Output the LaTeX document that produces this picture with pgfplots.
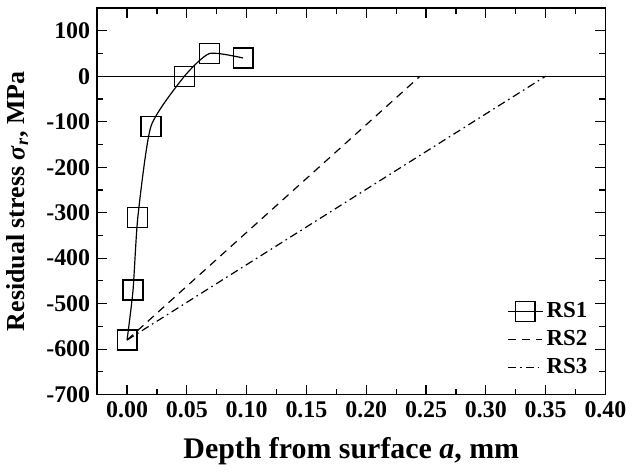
\documentclass[border=0pt]{standalone}
\usepackage{pgfplots}
\pgfplotsset{compat=1.18}
\usepackage{fontspec}
\setmainfont{Liberation Serif}
\begin{document}
\begin{tikzpicture}
\begin{axis}[
    scale only axis,
    width=255pt, height=194pt,
    xmin=-0.025, xmax=0.40,
    ymin=-700, ymax=150,
    xtick={0,0.05,...,0.40},
    ytick={-700,-600,...,100},
    minor x tick num=1,
    minor y tick num=1,
    tick align=inside,
    major tick length=5pt,
    minor tick length=3pt,
    axis line style={line width=0.8pt},
    every tick/.style={black, line width=0.6pt},
    /pgf/number format/assume math mode=true,
    xticklabel style={/pgf/number format/fixed, /pgf/number format/fixed zerofill, /pgf/number format/precision=2},
    tick label style={font=\bfseries\fontsize{12}{13}\selectfont},
    yticklabel style={/pgf/number format/fixed, /pgf/number format/1000 sep={}},
    xlabel={\bfseries\fontsize{15}{16}\selectfont Depth from surface \textit{a}, mm},
    ylabel={\bfseries\fontsize{13}{15}\selectfont Residual stress \textit{σ}\textsubscript{\textit{r}}, MPa},
    xlabel style={yshift=-3pt},
    ylabel style={yshift=2pt},
    legend style={draw=none, fill=none, at={(0.985,0.025)}, anchor=south east,
        font=\bfseries\fontsize{11.5}{13}\selectfont, row sep=1pt},
    legend cell align=left,
]
\addplot[black, line width=0.5pt, forget plot] coordinates {(-0.025,0) (0.40,0)};
\addplot[black, line width=0.6pt, smooth, tension=0.35, mark=square, mark size=5pt, mark options={solid, fill=white, line width=0.6pt}]
    coordinates {(0,-580) (0.005,-470) (0.009,-310) (0.02,-110) (0.048,0) (0.069,50) (0.097,40)};
\addlegendentry{RS1}
\addplot[black, line width=0.6pt, dash pattern=on 4pt off 3pt] coordinates {(0,-580) (0.245,0)};
\addlegendentry{RS2}
\addplot[black, line width=0.6pt, dash pattern=on 4pt off 2pt on 0.8pt off 2pt] coordinates {(0,-580) (0.35,0)};
\addlegendentry{RS3}
\end{axis}
\path (current axis.north) ++(0,4pt);
\end{tikzpicture}
\end{document}
